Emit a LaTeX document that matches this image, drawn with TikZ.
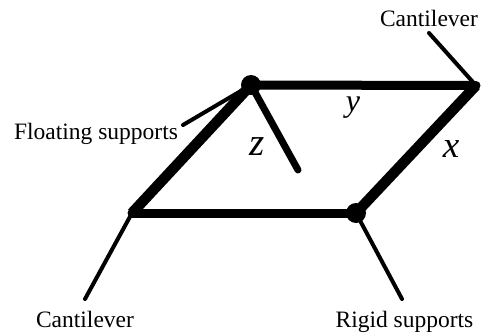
\documentclass[tikz,border=0pt]{standalone}
\usepackage{fontspec}
\setmainfont{Liberation Serif}
\begin{document}
\begin{tikzpicture}[x=1pt,y=-1pt,
  thick beam/.style={line width=10.5pt},
  mid beam/.style={line width=9pt},
  z beam/.style={line width=7pt,line cap=round},
  thin beam/.style={line width=4pt,line cap=round},
  joint/.style={circle,fill=black,inner sep=0pt,minimum size=#1},
  lbl/.style={inner sep=0pt,anchor=base,font=\fontsize{23.5}{26}\selectfont},
  var/.style={inner sep=0pt,font=\fontsize{#1}{40}\selectfont\itshape}]
\useasboundingbox (0,0) rectangle (483,333);
\node[joint=20pt] (A) at (251,85) {};
\node[joint=9pt] (B) at (476,85.5) {};
\node[joint=9pt] (C) at (132,213) {};
\node[joint=20pt] (D) at (356,213) {};
\coordinate (E) at (298,170);
\coordinate (F) at (429,33);
\coordinate (G) at (85,299);
\coordinate (H) at (402,299);
\coordinate (I) at (183,125);
\draw[mid beam] (A.center) -- (B.center);
\draw[mid beam] (C.center) -- (D.center);
\draw[thick beam] (A.center) -- (C.center);
\draw[thick beam] (B.center) -- (D.center);
\draw[z beam] (A.center) -- (E);
\draw[thin beam] (B.center) -- (F);
\draw[thin beam] (C.center) -- (G);
\draw[thin beam] (D.center) -- (H);
\draw[thin beam] (A.center) -- (I);
\node[lbl] (t1) at (429,26) {Cantilever};
\node[lbl] (t2) at (96,139) {Floating supports};
\node[lbl] (t3) at (85,327) {Cantilever};
\node[lbl] (t4) at (404.5,327) {Rigid supports};
\node[var=32] (y) at (353,108) {y};
\node[var=39] (z) at (257,147) {z};
\node[var=37] (x) at (451,149) {x};
\end{tikzpicture}
\end{document}
